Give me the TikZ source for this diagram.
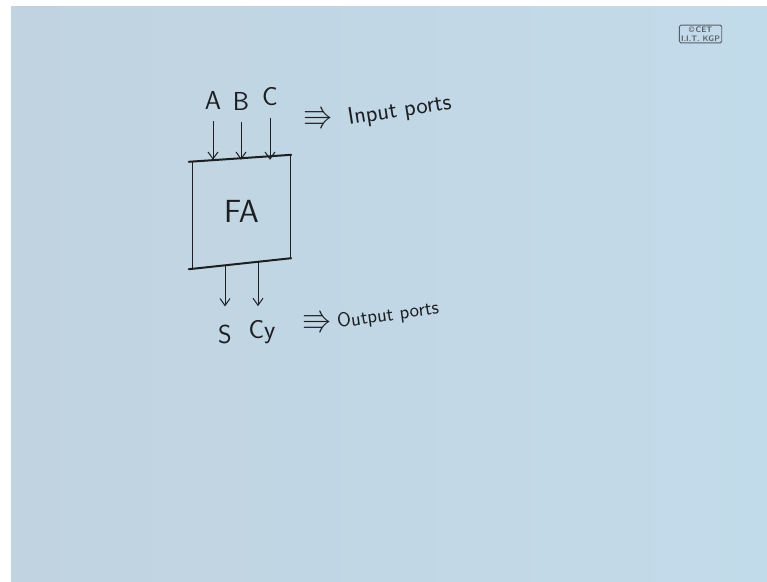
\documentclass[tikz,border=0pt]{standalone}
\usepackage{amsmath,amssymb}
\usepackage{tikz}
\usetikzlibrary{arrows.meta,positioning,calc}
\definecolor{inkcolor}{RGB}{28,30,34}
\definecolor{boardL}{RGB}{193,211,224}
\definecolor{boardM}{RGB}{206,224,236}
\definecolor{boardR}{RGB}{194,219,234}
\definecolor{logocolor}{RGB}{88,96,106}
\tikzset{
  portln/.style={-{Straight Barb[length=7pt,width=10pt]}, line width=1pt, inkcolor},
  barln/.style={line width=2pt, inkcolor, line cap=round},
  boxln/.style={line width=1.1pt, inkcolor, line cap=round},
  portlbl/.style={inkcolor, font=\sffamily\fontsize{26}{30}\selectfont, inner sep=0pt},
  notelbl/.style={inkcolor, inner sep=0pt},
  implies/.style={inkcolor, font=\fontsize{30}{34}\selectfont, inner sep=0pt},
}

\begin{document}
\begin{tikzpicture}[x=1pt, y=-1pt]
    \useasboundingbox (0,0) rectangle (767,581);
    \fill[white] (0,0) rectangle (767,581);
    \shade[left color=boardL, middle color=boardM, right color=boardR]
      (11,6) rectangle (767,581);
    \node[draw=logocolor, rounded corners=1.5pt, line width=0.9pt, text=logocolor,
      font=\sffamily\bfseries\fontsize{8}{8.5}\selectfont, align=center,
      inner sep=1.8pt] (logo) at (700.5,34) {\copyright\,CET\\I.I.T. KGP};
    % full adder block
    \node[minimum width=97pt, minimum height=105pt,
      text=inkcolor, font=\sffamily\fontsize{32}{36}\selectfont] (fa) at (241.5,211.5) {FA};
    \draw[boxln] ($(fa.north west)+(0,2.7)$) -- ($(fa.south west)+(0,4.6)$);
    \draw[boxln] ($(fa.north east)+(0,-3.9)$) -- ($(fa.south east)+(0,-5.9)$);
    \draw[barln] ($(fa.north west)+(-4,3)$) -- ($(fa.north east)+(1,-4)$);
    \draw[barln] ($(fa.south west)+(-4,5)$) -- ($(fa.south east)+(1,-6)$);
    % input ports
    \node[portlbl] (A) at (213,100) {A};
    \node[portlbl] (B) at (241,101) {B};
    \node[portlbl] (C) at (270,97) {C};
    \foreach \p in {A,B,C} {
      \draw[portln, shorten <=12pt, shorten >=-1pt] (\p.south) -- (\p.south |- fa.north);
    }
    \node[implies] (inimp) at (318,118) {$\Rrightarrow$};
    \node[notelbl, font=\sffamily\fontsize{24}{28}\selectfont, rotate=9,
      anchor=base west] (inlbl) at (349,125) {Input ports};
    % output ports
    \node[portlbl] (S) at (225,334) {S};
    \node[portlbl] (Cy) at (262,332) {Cy};
    \draw[portln, shorten <=1pt, shorten >=18pt] (S.north |- fa.south) -- (S.north);
    \draw[portln, shorten <=-2pt, shorten >=14pt] ($(Cy.north |- fa.south)+(-4,0)$) -- ($(Cy.north)+(-4,0)$);
    \node[implies] (outimp) at (317,322) {$\Rrightarrow$};
    \node[notelbl, font=\sffamily\fontsize{20}{24}\selectfont, rotate=8,
      anchor=base west] (outlbl) at (338,328) {Output ports};
  \end{tikzpicture}
\end{document}
